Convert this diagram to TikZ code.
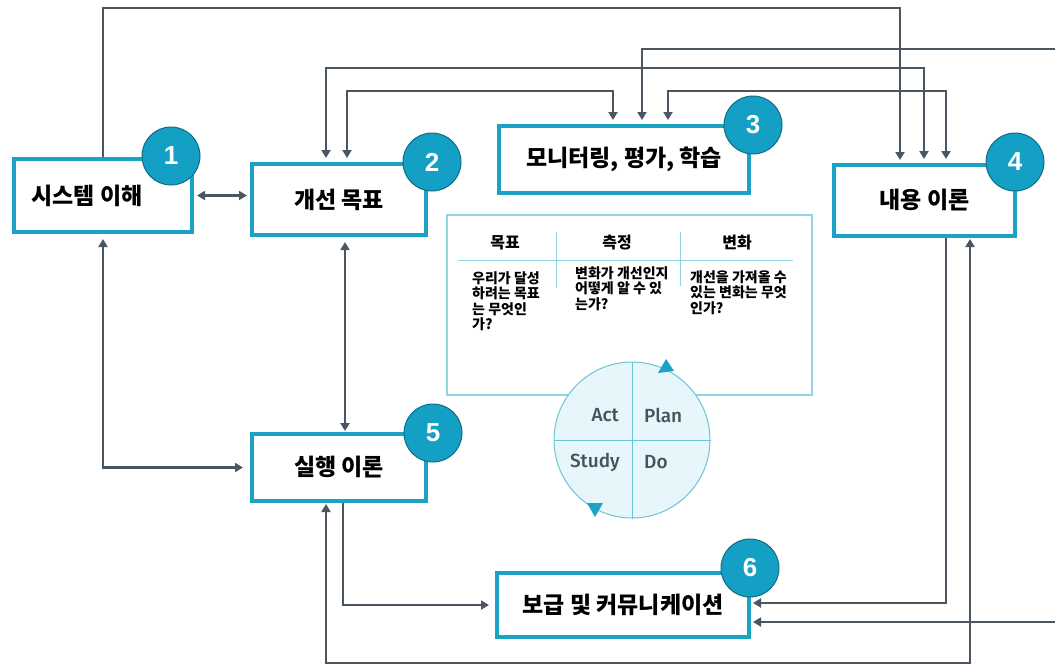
\documentclass[tikz,border=0pt]{standalone}
\usepackage{fontspec}
\setmainfont{Noto Sans CJK KR}[BoldFont={Noto Sans CJK KR Black}]
\newfontfamily\latinfont{Fira Sans Medium}
\newfontfamily\numfont{Liberation Sans}
\usetikzlibrary{arrows.meta}
\definecolor{linkc}{HTML}{4A5661}
\definecolor{boxc}{HTML}{1BA3C6}
\definecolor{badgec}{HTML}{14A0C5}
\definecolor{badged}{HTML}{0F6C84}
\definecolor{panelc}{HTML}{90D3E3}
\definecolor{pdcaf}{HTML}{E6F6FB}
\definecolor{pdcad}{HTML}{6AC4DA}
\definecolor{pdcat}{HTML}{46525C}
\begin{document}
\begin{tikzpicture}[x=1pt,y=-1pt,
  >={Triangle[width=9pt,length=8pt]},
  link/.style={draw=linkc, line width=2.4pt},
  box/.style={draw=boxc, line width=4pt, fill=white, inner sep=0pt,
    font=\fontsize{23}{26}\selectfont\bfseries},
  badge/.style={circle, draw=badged, line width=1pt, fill=badgec, minimum size=58pt,
    inner sep=0pt, text=white, font=\numfont\bfseries\fontsize{26}{28}\selectfont},
  panel/.style={draw=panelc, line width=1.3pt, fill=white, inner sep=0pt},
  hdr/.style={font=\fontsize{16}{18}\selectfont\bfseries, inner sep=0pt},
  body/.style={font=\fontsize{14}{15.5}\selectfont\bfseries, align=left, inner sep=0pt, anchor=north west},
  pd/.style={font=\latinfont\fontsize{19}{20}\selectfont, text=pdcat, inner sep=0pt},
  sep/.style={draw=panelc, line width=1pt}]
\useasboundingbox (0,0) rectangle (1055,665);

% boxes
\node[box, minimum width=178pt, minimum height=73pt] (b1) at (103,195.5) {\kern-32pt 시스템 이해};
\node[box, minimum width=174pt, minimum height=71pt] (b2) at (339,199.5) {개선 목표};
\node[box, minimum width=250pt, minimum height=67pt] (b3) at (624,159.5) {모니터링, 평가, 학습};
\node[box, minimum width=181pt, minimum height=71pt] (b4) at (924.5,200.5) {내용 이론};
\node[box, minimum width=174pt, minimum height=67pt] (b5) at (339,467.5) {실행 이론};
\node[box, minimum width=252pt, minimum height=64pt] (b6) at (623,605) {보급 및 커뮤니케이션};

% central panel
\node[panel, minimum width=365pt, minimum height=180pt] (pnl) at (629.5,305) {};
\coordinate (hl) at (458,260);
\coordinate (hr) at (793,260);
\draw[sep] (hl) -- (hr);
\coordinate (s1a) at (556,232); \coordinate (s1b) at (556,288);
\coordinate (s2a) at (680,232); \coordinate (s2b) at (680,286);
\draw[sep] (s1a) -- (s1b);
\draw[sep] (s2a) -- (s2b);
\node[hdr] (h1) at (505,243) {목표};
\node[hdr] (h2) at (617,243) {측정};
\node[hdr] (h3) at (737,243) {변화};
\node[body] (t1) at (472,271) {우리가 달성\\하려는 목표\\는 무엇인\\가?};
\node[body] (t2) at (575,266) {변화가 개선인지\\어떻게 알 수 있\\는가?};
\node[body] (t3) at (690,270) {개선을 가져올 수\\있는 변화는 무엇\\인가?};

% PDCA
\node[circle, draw=pdcad, line width=1pt, fill=pdcaf, minimum size=156pt, inner sep=0pt] (pdca) at (632,440) {};
\draw[draw=pdcad, line width=1pt] (pdca.north) -- (pdca.south);
\draw[draw=pdcad, line width=1pt] (pdca.west) -- (pdca.east);
\fill[boxc] (658,373) -- (674,371) -- (666,359) -- cycle;
\fill[boxc] (587,503) -- (603,503) -- (595,517) -- cycle;
\node[pd, anchor=east] (act) at (619,415) {Act};
\node[pd, anchor=west] (plan) at (644,415) {Plan};
\node[pd, anchor=east] (study) at (620,462) {Study};
\node[pd, anchor=west] (do) at (644,462) {Do};

% connectors
\draw[link,<->,shorten <=3pt,shorten >=3pt] (b1.east) -- (b1.east -| b2.west);
\draw[link,->,shorten >=3pt] (b1.north) -- ++(0,-149) -| ([xshift=-24.5pt]b4.north);
\draw[link,<->,shorten <=4pt,shorten >=4pt] ([xshift=-13pt]b2.north) -- ++(0,-94) -| ([xshift=-0.5pt]b4.north);
\draw[link,<->,shorten <=4pt,shorten >=4pt] ([xshift=8pt]b2.north) -- ++(0,-71) -| ([xshift=-11pt]b3.north);
\draw[link,<->,shorten <=4pt,shorten >=4pt] ([xshift=44pt]b3.north) -- ++(0,-33) -| ([xshift=21.5pt]b4.north);
\coordinate (inR1) at (1055,49);
\draw[link,->,shorten >=4pt] (inR1) -| ([xshift=18pt]b3.north);
\draw[link,->,shorten >=2pt] ([xshift=21.5pt]b4.south) |- ([yshift=2pt]b6.east);
\coordinate (inR2) at (1055,622);
\draw[link,->,shorten >=2pt] (inR2) -- (inR2 -| b6.east);
\draw[link,<->,shorten <=1pt,shorten >=1pt] ([xshift=45.5pt]b4.south) -- ++(0,425) -| ([xshift=-13pt]b5.south);
\draw[link,->,shorten >=6pt] ([xshift=4pt]b5.south) |- (b6.west);
\draw[link,<->,shorten <=5pt,shorten >=7pt] (b1.south) |- (b5.west);
\draw[link,<->,shorten <=5pt,shorten >=1pt] ([xshift=6pt]b2.south) -- ([xshift=6pt]b5.north);

% badges
\node[badge] (c1) at (171,156) {1};
\node[badge] (c2) at (432,162) {2};
\node[badge] (c3) at (753,125) {3};
\node[badge] (c4) at (1015,162) {4};
\node[badge] (c5) at (433,433) {5};
\node[badge] (c6) at (750,568) {6};
\end{tikzpicture}
\end{document}
